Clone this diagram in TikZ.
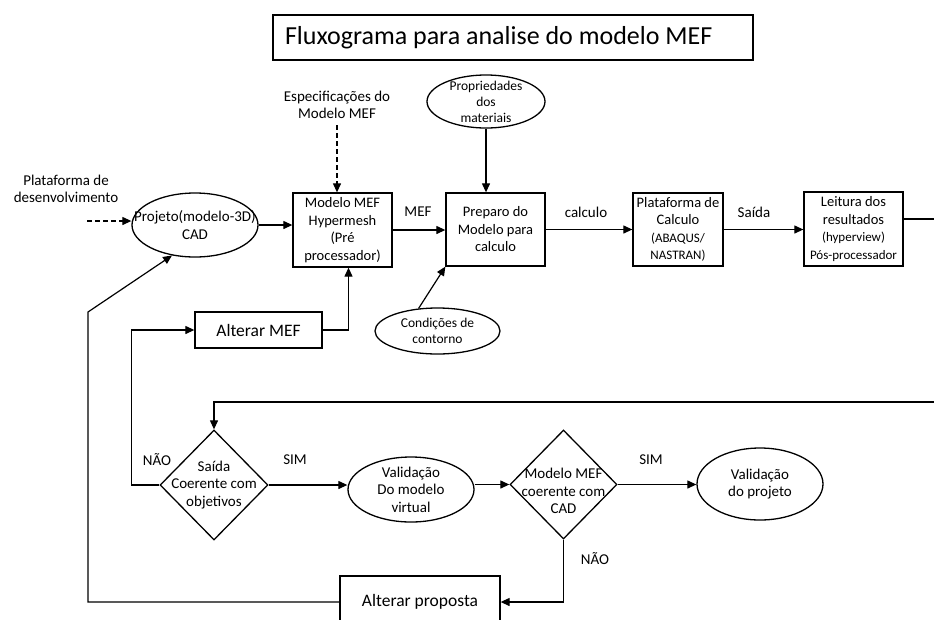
\documentclass[tikz,border=0pt]{standalone}
\usepackage{fontspec}
\setmainfont{Carlito}
\usetikzlibrary{shapes.geometric}
\usetikzlibrary{arrows.meta}

\newcommand{\pequeno}{\fontsize{13}{16}\selectfont}

\begin{document}
\begin{tikzpicture}[x=1pt,y=-1pt,
        txt/.style={font=\fontsize{15}{17.5}\selectfont,align=center,inner sep=0pt},
        caixa/.style={draw,line width=1.3pt,align=center,font=\fontsize{14.5}{17.5}\selectfont,inner sep=1pt},
        oval/.style={draw,ellipse,line width=1.3pt,txt,inner sep=-20pt},
        losango/.style={draw,diamond,line width=1.3pt,txt,inner sep=-20pt},
        seta/.style={line width=1.2pt,-{Triangle[length=9pt,width=8pt]}},
        linha/.style={line width=1.2pt}]
        \useasboundingbox (0,0) rectangle (934,619);

        \node[draw,line width=1.8pt,font=\fontsize{26}{30}\selectfont,text width=456pt,align=flush left,inner xsep=12pt,minimum height=45pt] (titulo) at (513,37.5) {Fluxograma para analise do modelo MEF};

        % linha de cima
        \node[txt] (platdes) at (66,189) {Plataforma de\\desenvolvimento};
        \node[oval,minimum width=126pt,minimum height=64pt] (proj) at (195,225) {Projeto(modelo-3D)\\CAD};
        \node[txt] (espec) at (337,105) {Especificações do\\Modelo MEF};
        \node[caixa,minimum width=99pt,minimum height=74pt] (mef) at (342.5,230) {Modelo MEF\\Hypermesh\\(Pré\\processador)};
        \node[oval,font=\fontsize{13.5}{16}\selectfont,minimum width=118pt,minimum height=53pt] (prop) at (486,101.5) {Propriedades\\dos\\materiais};
        \node[caixa,minimum width=99pt,minimum height=73pt] (prep) at (495.5,229.5) {Preparo do\\Modelo para\\calculo};
        \node[oval,font=\fontsize{13.5}{16}\selectfont,minimum width=125pt,minimum height=46pt] (cond) at (437.5,331) {Condições de\\contorno};
        \node[caixa,minimum width=90pt,minimum height=73pt] (plat) at (678,229.5) {Plataforma de\\Calculo\\\pequeno(ABAQUS/\\\pequeno NASTRAN)};
        \node[caixa,minimum width=99pt,minimum height=74pt] (leit) at (853.5,229) {Leitura dos\\resultados\\\pequeno(hyperview)\\\pequeno Pós-processador};
        \node[caixa,font=\fontsize{17.5}{22}\selectfont,minimum width=127pt,minimum height=36pt] (altmef) at (258.5,330) {Alterar MEF};

        % linha de baixo
        \node[losango,minimum width=108pt,minimum height=110pt] (d1) at (214,485) {Saída\\Coerente com\\objetivos};
        \node[oval,minimum width=126pt,minimum height=65pt] (val1) at (411,489.5) {Validação\\Do modelo\\virtual};
        \node[losango,minimum width=107pt,minimum height=109pt] (d2) at (563.5,484.5) {};
        \node[txt] (d2txt) at (563.5,491) {Modelo MEF\\coerente com\\CAD};
        \node[oval,minimum width=126pt,minimum height=72pt] (val2) at (760,484) {Validação\\do projeto};
        \node[caixa,font=\fontsize{17.5}{22}\selectfont,minimum width=160pt,minimum height=52pt] (altprop) at (420,602) {Alterar proposta};

        % rotulos
        \node[txt] (lbmef) at (418,212) {MEF};
        \node[txt] (lbcalc) at (586,212) {calculo};
        \node[txt] (lbsaida) at (754,212) {Saída};
        \node[txt] (nao1) at (157,460) {NÃO};
        \node[txt] (sim1) at (295,460) {SIM};
        \node[txt] (sim2) at (651,460) {SIM};
        \node[txt] (nao2) at (595,559) {NÃO};

        % setas de cima
        \coordinate (iniplat) at (87,221);
        \draw[seta,dash pattern=on 5pt off 3pt] (iniplat) -- (iniplat -| proj.west);
        \draw[seta] (proj.east) -- (proj.east -| mef.west);
        \draw[seta,dash pattern=on 5pt off 3pt,shorten <=6pt] (espec.south) -- (espec.south |- mef.north);
        \draw[seta] (mef.east) -- (mef.east -| prep.west);
        \draw[seta] (prop.south) -- (prop.south |- prep.north);
        \draw[seta] (cond.130) -- (prep.south west);
        \draw[seta] (prep.east) -- (prep.east -| plat.west);
        \draw[seta] (plat.east) -- (plat.east -| leit.west);
        \coordinate (saidaR) at (934,219);
        \draw[linha] (saidaR -| leit.east) -- (saidaR);
        \draw[seta] (altmef.east) -| ([xshift=6pt]mef.south);

        % setas de baixo
        \draw[seta] (d1.west) -- ++(-28,0) |- (altmef.west);
        \coordinate (voltaB) at (88,312);
        \draw[seta] (altprop.west) -| (voltaB) -- (proj.233);
        \coordinate (voltaR) at (934,402);
        \draw[seta] (voltaR) -| (d1.north);
        \draw[seta] (d1.east) -- (d1.east -| val1.west);
        \draw[seta] (d2.west -| val1.east) -- (d2.west);
        \draw[seta] (d2.east) -- (d2.east -| val2.west);
        \draw[seta] (d2.south) |- (altprop.east);
\end{tikzpicture}
\end{document}
